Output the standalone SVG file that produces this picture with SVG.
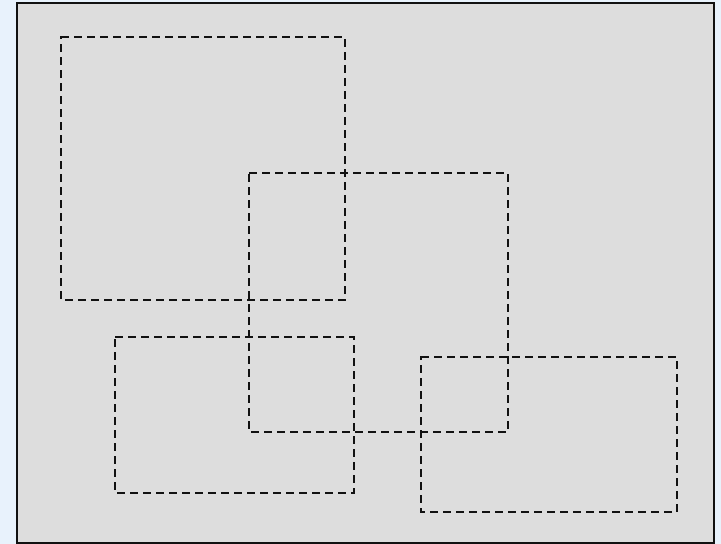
<svg xmlns="http://www.w3.org/2000/svg" width="721" height="544" viewBox="0 0 721 544">
<style>
.box{fill:none;stroke:#111;stroke-width:2;stroke-dasharray:8,5}
</style>
<rect x="0" y="0" width="721" height="544" fill="#e8f2fc"/>
<rect id="frame" x="17" y="3" width="697" height="540" fill="#dddddd" stroke="#111" stroke-width="2"/>
<g id="region1"><rect class="box" x="61" y="37" width="284" height="263"/></g>
<g id="region2"><rect class="box" x="249" y="173" width="259" height="259"/></g>
<g id="region3"><rect class="box" x="115" y="337" width="239" height="156"/></g>
<g id="region4"><rect class="box" x="421" y="357" width="256" height="155"/></g>
<g id="connectors"></g>
</svg>
